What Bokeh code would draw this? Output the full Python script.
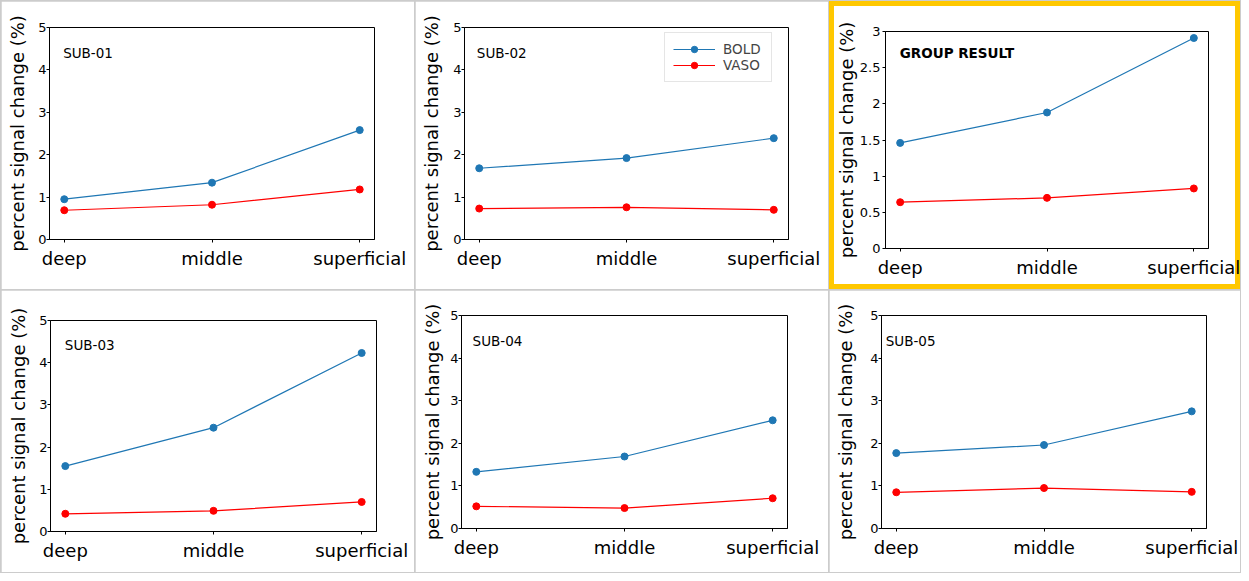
from bokeh.plotting import figure
from bokeh.layouts import row, column
from bokeh.models import Range1d, FixedTicker, NumeralTickFormatter, Label
from bokeh.embed import file_html
from bokeh.resources import INLINE

# ---------------- data ----------------
layers = ["deep", "middle", "superficial"]
panel_titles = ["SUB-01", "SUB-02", "GROUP RESULT", "SUB-03", "SUB-04", "SUB-05"]
series_names = ["BOLD", "VASO"]

sub01_bold = [0.95, 1.34, 2.58]
sub01_vaso = [0.69, 0.82, 1.18]
sub02_bold = [1.68, 1.92, 2.39]
sub02_vaso = [0.73, 0.76, 0.70]
group_bold = [1.46, 1.88, 2.91]
group_vaso = [0.64, 0.70, 0.83]
sub03_bold = [1.55, 2.46, 4.23]
sub03_vaso = [0.42, 0.49, 0.70]
sub04_bold = [1.33, 1.69, 2.54]
sub04_vaso = [0.52, 0.48, 0.71]
sub05_bold = [1.77, 1.96, 2.75]
sub05_vaso = [0.85, 0.95, 0.86]

y_max = [5, 5, 3, 5, 5, 5]
y_step = [1, 1, 0.5, 1, 1, 1]

# ---------------- styling ----------------
FONT = "DejaVu Sans"
BLUE = "#1f77b4"
RED = "#ff0000"

# (width, height, left, top, right, bottom, ylabel_standoff, ytick_standoff, text_fx, text_fy)
layout_cfg = [
    (413, 288, 48, 26, 40, 50, 7, 0, 0.042, 0.882),
    (413, 288, 49, 26, 40, 50, 8, 0, 0.038, 0.879),
    (411, 288, 56, 30, 32, 41, 0, 2, 0.044, 0.903),
    (413, 282, 49, 30, 38, 41, 7, 0, 0.044, 0.883),
    (413, 282, 46, 25, 41, 44, 4, 0, 0.034, 0.879),
    (411, 282, 52, 25, 34, 44, 11, 0, 0.013, 0.879),
]

data_sets = [
    (sub01_bold, sub01_vaso),
    (sub02_bold, sub02_vaso),
    (group_bold, group_vaso),
    (sub03_bold, sub03_vaso),
    (sub04_bold, sub04_vaso),
    (sub05_bold, sub05_vaso),
]


def make_panel(i):
    w, h, bl, bt, br, bb, ylab_so, ytick_so, fx, fy = layout_cfg[i]
    bold, vaso = data_sets[i]
    ymax = y_max[i]
    xs = list(range(len(layers)))
    p = figure(width=w, height=h, x_range=Range1d(-0.1, 2.1), y_range=Range1d(0, ymax),
               output_backend="svg", toolbar_location=None,
               min_border_left=bl, min_border_top=bt, min_border_right=br, min_border_bottom=bb)
    p.xgrid.visible = False
    p.ygrid.visible = False
    p.background_fill_color = "white"
    p.border_fill_color = "white"
    p.outline_line_color = "black"
    p.outline_line_width = 1
    p.outline_line_alpha = 1

    # x axis
    xa = p.xaxis[0]
    xa.ticker = FixedTicker(ticks=xs)
    xa.major_label_overrides = {k: layers[k] for k in xs}
    xa.major_label_text_font = FONT
    xa.major_label_text_font_size = "18px"
    xa.major_label_text_color = "black"
    xa.major_tick_out = 3
    xa.major_tick_in = 0
    xa.minor_tick_out = 0
    xa.minor_tick_in = 0
    xa.axis_line_color = "black"
    xa.major_tick_line_color = "black"
    xa.major_label_standoff = 5

    # y axis
    ya = p.yaxis[0]
    n = int(round(ymax / y_step[i]))
    ya.ticker = FixedTicker(ticks=[k * y_step[i] for k in range(n + 1)])
    ya.formatter = NumeralTickFormatter(format="0.[0]")
    ya.major_label_text_font = FONT
    ya.major_label_text_font_size = "13px"
    ya.major_label_text_color = "black"
    ya.major_tick_out = 3
    ya.major_tick_in = 0
    ya.minor_tick_out = 0
    ya.minor_tick_in = 0
    ya.major_label_standoff = ytick_so
    ya.axis_line_color = "black"
    ya.major_tick_line_color = "black"
    ya.axis_label = "percent signal change (%)"
    ya.axis_label_text_font = FONT
    ya.axis_label_text_font_size = "18px"
    ya.axis_label_text_font_style = "normal"
    ya.axis_label_text_color = "black"
    ya.axis_label_standoff = ylab_so

    with_legend = (i == 1)
    kw_b = dict(legend_label=series_names[0]) if with_legend else {}
    kw_v = dict(legend_label=series_names[1]) if with_legend else {}
    p.line(xs, bold, line_color=BLUE, line_width=1.2, **kw_b)
    p.scatter(xs, bold, size=7, fill_color=BLUE, line_color=BLUE, **kw_b)
    p.line(xs, vaso, line_color=RED, line_width=1.2, **kw_v)
    p.scatter(xs, vaso, size=7, fill_color=RED, line_color=RED, **kw_v)

    if with_legend:
        lg = p.legend[0]
        lg.location = (200, 157)
        lg.margin = 0
        lg.padding = 8
        lg.spacing = 0
        lg.glyph_width = 42
        lg.glyph_height = 16
        lg.label_height = 16
        lg.label_width = 40
        lg.label_standoff = 8
        lg.label_text_font = FONT
        lg.label_text_font_size = "13.5px"
        lg.border_line_color = "#cccccc"
        lg.border_line_width = 1
        lg.background_fill_color = "white"
        lg.background_fill_alpha = 0.8

    title = panel_titles[i]
    lbl = Label(x=-0.1 + fx * 2.2, y=fy * ymax, text=title,
                text_font=FONT, text_font_size="13.5px",
                text_font_style="bold" if title == "GROUP RESULT" else "normal",
                text_color="black", text_align="left", text_baseline="alphabetic")
    p.add_layout(lbl)
    return p


panels = [make_panel(i) for i in range(6)]

# highlight the group-result panel with a yellow frame
panels[2].border_fill_alpha = 0
panels[2].styles = {"box-shadow": "inset 0 0 0 5px #ffc800", "background-color": "white"}

cells = [column(p) for p in panels]
r1 = row(cells[0], cells[1], cells[2], spacing=1)
r2 = row(cells[3], cells[4], cells[5], spacing=1)
page = column(r1, r2, spacing=1)
page.styles = {"background-color": "#cccccc", "border": "1px solid #cccccc"}

open("out.html", "w").write(file_html(page, INLINE))
